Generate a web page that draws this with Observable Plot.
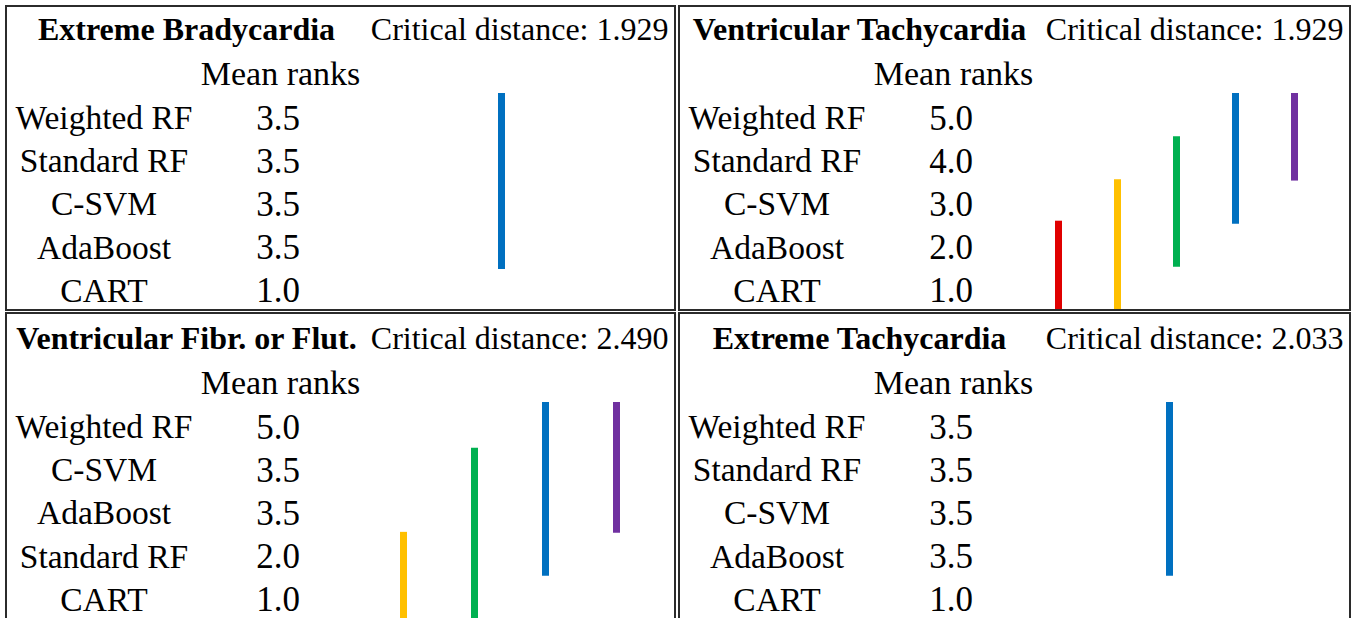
<!DOCTYPE html>
<html><head><meta charset="utf-8">
<script src="https://cdn.jsdelivr.net/npm/d3@7"></script>
<script src="https://cdn.jsdelivr.net/npm/@observablehq/plot@0.6"></script>
<style>
html,body{margin:0;padding:0;background:#fff;overflow:hidden;width:1360px;height:618px;}
#wrap{position:relative;width:1360px;height:618px;overflow:hidden;background:#fff;}
.panel{position:absolute;border:2px solid #2b2b2b;overflow:hidden;background:#fff;}
.panel svg{display:block;overflow:visible;}
</style></head><body><div id="wrap"></div>
<script>
// ---- data ----
const panelTitles = ["Extreme Bradycardia", "Ventricular Tachycardia", "Ventricular Fibr. or Flut.", "Extreme Tachycardia"];
const criticalDistances = [1.929, 1.929, 2.490, 2.033];

const methodsEB = ["Weighted RF", "Standard RF", "C-SVM", "AdaBoost", "CART"];
const ranksEB = [3.5, 3.5, 3.5, 3.5, 1.0];
const methodsVT = ["Weighted RF", "Standard RF", "C-SVM", "AdaBoost", "CART"];
const ranksVT = [5.0, 4.0, 3.0, 2.0, 1.0];
const methodsVF = ["Weighted RF", "C-SVM", "AdaBoost", "Standard RF", "CART"];
const ranksVF = [5.0, 3.5, 3.5, 2.0, 1.0];
const methodsET = ["Weighted RF", "Standard RF", "C-SVM", "AdaBoost", "CART"];
const ranksET = [3.5, 3.5, 3.5, 3.5, 1.0];

// group bars: extents in table-row units (row 5 = first method, row 1 = last)
const barLowEB = [1.45];
const barHighEB = [5.53];
const barColorsEB = ["#0070C0"];
const barLowVT = [0.4, 0.4, 1.5, 2.5, 3.5];
const barHighVT = [2.57, 3.53, 4.53, 5.53, 5.53];
const barColorsVT = ["#E00000", "#FFC000", "#00B050", "#0070C0", "#7030A0"];
const barLowVF = [0.3, 0.3, 1.5, 2.5];
const barHighVF = [2.52, 4.47, 5.53, 5.53];
const barColorsVF = ["#FFC000", "#00B050", "#0070C0", "#7030A0"];
const barLowET = [1.5];
const barHighET = [5.53];
const barColorsET = ["#0070C0"];

// ---- layout ----
const font = "'Liberation Serif', 'Times New Roman', serif";
const panels = [
  {methods: methodsEB, ranks: ranksEB, lo: barLowEB, hi: barHighEB, colors: barColorsEB, box: {left: 5, top: 5, w: 667, h: 302}, shift: 0, barCenter: 494, barStep: 60},
  {methods: methodsVT, ranks: ranksVT, lo: barLowVT, hi: barHighVT, colors: barColorsVT, box: {left: 678, top: 5, w: 669, h: 302}, shift: 0, barCenter: 495.5, barStep: 59.8},
  {methods: methodsVF, ranks: ranksVF, lo: barLowVF, hi: barHighVF, colors: barColorsVF, box: {left: 5, top: 312, w: 667, h: 312}, shift: 2, barCenter: 502, barStep: 71.5},
  {methods: methodsET, ranks: ranksET, lo: barLowET, hi: barHighET, colors: barColorsET, box: {left: 678, top: 312, w: 669, h: 312}, shift: 2, barCenter: 489, barStep: 60}
];

const wrap = document.getElementById("wrap");
panels.forEach((p, k) => {
  const rows = p.methods.map((m, i) => ({row: 5 - i, name: m, rank: p.ranks[i]}));
  const bars = p.lo.map((lo, i) => ({i, lo, hi: p.hi[i], color: p.colors[i]}));
  const n = bars.length;
  const half = p.barStep * (n - 1) / 2;
  const txt = {frameAnchor: "left", textAnchor: "middle", fill: "#000", dy: 2};
  const chart = Plot.plot({
    width: p.box.w,
    height: p.box.h,
    margin: 0,
    style: {fontFamily: font, background: "#fff", color: "#000"},
    x: {type: "point", padding: 0, domain: d3.range(n), range: [p.barCenter - half, p.barCenter + half], axis: null},
    y: {domain: [0.5, 7.5], range: [303 + p.shift, 1 + p.shift], axis: null},
    color: {type: "identity"},
    marks: [
      Plot.ruleX(bars, {x: "i", y1: "lo", y2: "hi", stroke: "color", strokeWidth: 7}),
      Plot.text([panelTitles[k]], {...txt, y: () => 7, dy: 0, text: d => d, dx: 179, fontWeight: "bold", fontSize: 32}),
      Plot.text([criticalDistances[k]], {...txt, y: () => 7, dy: 0, text: d => `Critical distance: ${d.toFixed(3)}`, frameAnchor: "right", dx: -6, textAnchor: "end", fontSize: 32}),
      Plot.text(["Mean ranks"], {...txt, y: () => 6, dy: 1, text: d => d, dx: 273, fontSize: 34}),
      Plot.text(rows, {...txt, y: "row", text: "name", dx: 96.5, fontSize: 33.5}),
      Plot.text(rows, {...txt, y: "row", text: d => d.rank.toFixed(1), dx: 270.5, fontSize: 35})
    ]
  });
  const div = document.createElement("div");
  div.className = "panel";
  div.style.left = p.box.left + "px";
  div.style.top = p.box.top + "px";
  div.style.width = p.box.w + "px";
  div.style.height = p.box.h + "px";
  div.appendChild(chart);
  wrap.appendChild(div);
});
</script>
</body></html>
